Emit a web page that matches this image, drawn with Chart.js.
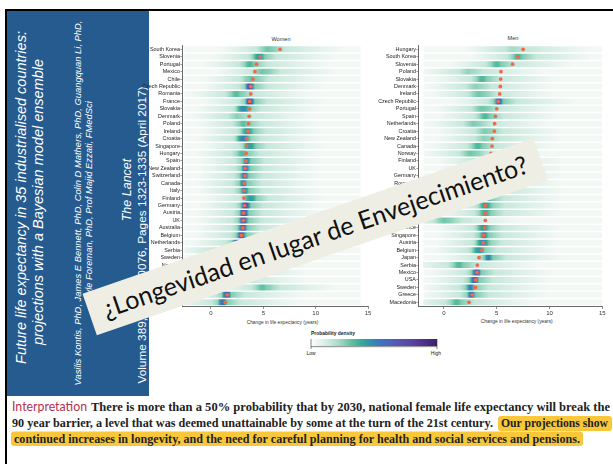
<!DOCTYPE html>
<html lang="es">
<head>
<meta charset="utf-8">
<title>¿Longevidad en lugar de Envejecimiento?</title>
<script src="https://cdn.jsdelivr.net/npm/chart.js@4.4.1/dist/chart.umd.min.js"></script>
<style>
  html, body { margin: 0; padding: 0; background: #fff; }
  body { width: 613px; height: 464px; position: relative; overflow: hidden; }
  svg { position: absolute; left: 0; top: 0; }
  #bg { z-index: 0; }
  .chartBox { position: absolute; z-index: 1; }
  #fg { z-index: 2; pointer-events: none; }
</style>
</head>
<body>

<svg id="bg" width="613" height="464" xmlns="http://www.w3.org/2000/svg">
  <defs><linearGradient id="densityRamp" x1="0" y1="0" x2="1" y2="0"></linearGradient></defs>
  <!-- slide frame -->
  <rect x="5" y="9" width="608" height="2" fill="#000"/>
  <rect x="5" y="9" width="2" height="455" fill="#000"/>
  <!-- article panel -->
  <rect x="7" y="11" width="142" height="385" fill="#265b90"/>
  <g fill="#fff" font-family="'Liberation Sans', Arial, sans-serif" text-anchor="middle">
    <text x="26" y="197.5" transform="rotate(-90 26 197.5)" font-size="14.5" font-style="italic">Future life expectancy in 35 industrialised countries:</text>
    <text x="43" y="202" transform="rotate(-90 43 202)" font-size="14.5" font-style="italic">projections with a Bayesian model ensemble</text>
    <text x="81" y="203" transform="rotate(-90 81 203)" font-size="9.4" font-style="italic">Vasilis Kontis, PhD, James E Bennett, PhD, Colin D Mathers, PhD, Guangquan Li, PhD,</text>
    <text x="92" y="201" transform="rotate(-90 92 201)" font-size="9.4" font-style="italic">Kyle Foreman, PhD, Prof Majid Ezzati, FMedSci</text>
    <text x="131" y="190" transform="rotate(-90 131 190)" font-size="12.5" font-style="italic">The Lancet</text>
    <text x="146" y="235" transform="rotate(-90 146 235)" font-size="11.8">Volume 389, Issue 10076, Pages 1323-1335 (April 2017)</text>
  </g>

  <!-- panel titles and axis titles -->
  <g font-family="'Liberation Sans', Arial, sans-serif" fill="#333" text-anchor="middle" font-size="5.6">
    <text x="281" y="41">Women</text>
    <text x="513" y="40">Men</text>
    <text x="282.5" y="324" textLength="71.6" lengthAdjust="spacingAndGlyphs">Change in life expectancy (years)</text>
    <text x="516.7" y="323" textLength="72" lengthAdjust="spacingAndGlyphs">Change in life expectancy (years)</text>
  </g>

  <!-- density legend -->
  <g font-family="'Liberation Sans', Arial, sans-serif" fill="#222">
    <text x="311" y="335" font-size="5.3" font-weight="bold" textLength="44" lengthAdjust="spacingAndGlyphs">Probability density</text>
    <rect x="311" y="339" width="126" height="7.5" fill="url(#densityRamp)"/>
    <rect x="311" y="346" width="126" height="1.2" fill="#9a9a9a"/>
    <line x1="311" y1="339" x2="311" y2="349" stroke="#333" stroke-width="0.6"/>
    <line x1="437" y1="339" x2="437" y2="349" stroke="#333" stroke-width="0.6"/>
    <text x="311" y="354.5" font-size="5" text-anchor="middle">Low</text>
    <text x="436" y="354.5" font-size="5" text-anchor="middle">High</text>
  </g>

  <!-- interpretation paragraph -->
  <rect x="498" y="416" width="114" height="15" rx="3" fill="#f9c83a"/>
  <rect x="11" y="431.5" width="572" height="14.5" rx="3" fill="#f9c83a"/>
  <g font-size="13.5" fill="#222">
    <text x="12" y="411" font-family="Lato, 'Open Sans', sans-serif" fill="#b3304f" textLength="75" lengthAdjust="spacingAndGlyphs">Interpretation</text>
    <g font-family="'Liberation Serif', 'DejaVu Serif', serif" font-weight="bold">
      <text x="91" y="411" textLength="519" lengthAdjust="spacingAndGlyphs">There is more than a 50% probability that by 2030, national female life expectancy will break the</text>
      <text x="12" y="427" textLength="481" lengthAdjust="spacingAndGlyphs">90 year barrier, a level that was deemed unattainable by some at the turn of the 21st century.</text>
      <text x="501" y="427" textLength="107" lengthAdjust="spacingAndGlyphs">Our projections show</text>
      <text x="14" y="442.7" textLength="566" lengthAdjust="spacingAndGlyphs">continued increases in longevity, and the need for careful planning for health and social services and pensions.</text>
    </g>
  </g>
</svg>

<div class="chartBox" style="left:140px;top:30px;width:234px;height:296px"><canvas id="womenChart" width="234" height="296"></canvas></div>
<div class="chartBox" style="left:375px;top:30px;width:234px;height:296px"><canvas id="menChart" width="234" height="296"></canvas></div>

<svg id="fg" width="613" height="464" xmlns="http://www.w3.org/2000/svg">
  <g transform="translate(315.2 236.8) rotate(-19)">
    <rect x="-238.5" y="-22" width="477" height="44" fill="#efeee5"/>
    <text x="0" y="9" text-anchor="middle" font-family="Lato, 'Open Sans', sans-serif" font-size="25.5" fill="#111" textLength="448" lengthAdjust="spacingAndGlyphs">¿Longevidad en lugar de Envejecimiento?</text>
  </g>
</svg>

<script>
// Projected change in life expectancy 2010-2030, per country (years)
const womenCountries = ["South Korea","Slovenia","Portugal","Mexico","Chile","Czech Republic","Romania","France","Slovakia","Denmark","Poland","Ireland","Croatia","Singapore","Hungary","Spain","New Zealand","Switzerland","Canada","Italy","Finland","Germany","Austria","UK","Australia","Belgium","Netherlands","Serbia","Sweden","Norway","Japan","Greece","USA","Bulgaria","Macedonia"];
const womenMedian = [6.6,4.7,4.35,4.2,4.0,3.8,3.8,3.7,3.7,3.65,3.6,3.55,3.4,3.4,3.35,3.35,3.27,3.25,3.18,3.18,3.15,3.22,3.12,3.09,3.05,2.9,2.55,2.35,2.25,2.1,2.0,1.85,1.7,1.55,1.37];
const womenPeak = [5.4,4.6,3.7,4.9,3.8,3.7,2.4,3.7,3.1,2.5,3.1,3.5,3.1,3.7,3.0,3.4,3.3,3.2,3.1,3.2,3.8,3.3,3.15,3.1,3.05,2.9,2.5,1.2,2.2,2.0,1.9,1.8,4.9,1.5,1.1];
const womenPeakLevel = [0.3,0.45,0.36,0.3,0.3,0.78,0.34,0.8,0.5,0.26,0.33,0.45,0.52,0.45,0.35,0.55,0.62,0.6,0.55,0.55,0.45,0.82,0.75,0.72,0.72,0.72,0.7,0.35,0.55,0.55,0.5,0.5,0.33,0.72,0.62];

const menCountries = ["Hungary","South Korea","Slovenia","Poland","Slovakia","Denmark","Ireland","Czech Republic","Portugal","Spain","Netherlands","Croatia","New Zealand","Canada","Norway","Finland","UK","Germany","Romania","Switzerland","Italy","Australia","Chile","Bulgaria","France","Singapore","Austria","Belgium","Japan","Serbia","Mexico","USA","Sweden","Greece","Macedonia"];
const menMedian = [7.5,7.0,6.5,5.4,5.37,5.34,5.28,5.15,5.0,4.87,4.8,4.77,4.58,4.55,4.45,4.35,4.25,4.15,4.05,4.0,3.98,3.92,3.92,3.92,3.85,3.76,3.73,3.6,3.32,3.16,3.13,3.0,2.97,2.68,2.37];
const menPeak = [6.5,7.0,5.0,2.3,3.6,3.0,3.3,5.2,3.6,3.9,2.8,3.9,3.8,3.2,2.5,4.0,4.1,4.0,3.9,4.1,4.0,3.95,3.9,0.0,3.75,3.8,3.7,3.3,4.2,1.4,3.1,2.9,2.5,2.6,1.2];
const menPeakLevel = [0.22,0.36,0.35,0.25,0.36,0.26,0.3,0.68,0.3,0.36,0.28,0.28,0.26,0.36,0.3,0.35,0.35,0.35,0.35,0.42,0.42,0.45,0.4,0.3,0.45,0.55,0.5,0.45,0.55,0.35,0.72,0.68,0.55,0.6,0.35];

const xTickValues = [0, 5, 10, 15];
const womenBand = [-2.55, 14.3];
const menBand = [-1.95, 15];

// Probability density colour ramp (low -> high)
const densityStopPos = [0, 0.04, 0.12, 0.22, 0.32, 0.40, 0.48, 0.56, 0.68, 0.82, 1];
const densityStopColor = ['#ffffff','#f1f7f4','#d5ede4','#a6dbc8','#63c0a3','#35ab95','#2f8fb1','#3e72c2','#5659b5','#5a3f9f','#3e1d6f'];

const hexToRgb = h => [1, 3, 5].map(i => parseInt(h.slice(i, i + 2), 16));
const rampRgb = densityStopColor.map(hexToRgb);

function densityColor(d) {
  d = Math.max(0, Math.min(1, d));
  let k = 0;
  while (k < densityStopPos.length - 2 && d > densityStopPos[k + 1]) k++;
  const t = (d - densityStopPos[k]) / (densityStopPos[k + 1] - densityStopPos[k]);
  const a = rampRgb[k], b = rampRgb[k + 1];
  const c = a.map((v, j) => Math.round(v + (b[j] - v) * t));
  return `rgb(${c[0]},${c[1]},${c[2]})`;
}

function densityAt(v, peak, level) {
  const d = v - peak;
  const coreSd = level >= 0.55 ? 0.3 : 0.55;
  const core = level * Math.exp(-0.5 * (d / coreSd) ** 2);
  const shoulder = Math.min(level, 0.3) * 0.95 * Math.exp(-0.5 * (d / (d < 0 ? 0.9 : 1.5)) ** 2);
  const tail = 0.16 * Math.exp(-0.5 * (d / (d < 0 ? 2.6 : 4.2)) ** 2);
  return Math.max(core, shoulder, tail, 0.035);
}

// legend ramp
const ramp = document.getElementById('densityRamp');
densityStopPos.forEach((p, i) => {
  const s = document.createElementNS('http://www.w3.org/2000/svg', 'stop');
  s.setAttribute('offset', p);
  s.setAttribute('stop-color', densityStopColor[i]);
  ramp.appendChild(s);
});

const tickFont = '"Liberation Sans Narrow", "Liberation Sans", Arial, sans-serif';

function densityPanel(canvasId, countries, median, peak, level, band, xMin, yWidth, rightPad) {
  const bandFill = (ctx) => {
    const chart = ctx.chart;
    if (ctx.type !== 'data' || !chart.chartArea) return '#eef6f3';
    const xs = chart.scales.x;
    const i = ctx.dataIndex;
    const x0 = xs.getPixelForValue(band[0]);
    const x1 = xs.getPixelForValue(band[1]);
    const g = chart.ctx.createLinearGradient(x0, 0, x1, 0);
    const N = 90;
    for (let k = 0; k <= N; k++) {
      const v = band[0] + (band[1] - band[0]) * k / N;
      g.addColorStop(k / N, densityColor(densityAt(v, peak[i], level[i])));
    }
    return g;
  };

  return new Chart(document.getElementById(canvasId), {
    type: 'bar',
    data: {
      labels: countries,
      datasets: [
        {
          type: 'scatter',
          data: countries.map((c, i) => ({ x: median[i], y: c })),
          pointRadius: 1.9,
          pointHoverRadius: 1.9,
          pointBackgroundColor: '#f2694a',
          pointBorderWidth: 0,
          order: 0
        },
        {
          type: 'bar',
          data: countries.map(() => [band[0], band[1]]),
          backgroundColor: bandFill,
          borderWidth: 0,
          barPercentage: 0.8,
          categoryPercentage: 1,
          order: 1
        }
      ]
    },
    options: {
      responsive: false,
      animation: false,
      devicePixelRatio: 1,
      indexAxis: 'y',
      events: [],
      layout: { padding: { left: 0, top: 15.6, right: rightPad, bottom: 0 } },
      plugins: { legend: { display: false }, tooltip: { enabled: false }, title: { display: false } },
      scales: {
        x: {
          type: 'linear', position: 'bottom', min: xMin, max: 15,
          afterBuildTicks: s => { s.ticks = xTickValues.map(v => ({ value: v })); },
          afterFit: s => { s.height = 20; },
          grid: { drawOnChartArea: false, drawTicks: true, tickLength: 3, color: '#444', lineWidth: 0.6 },
          border: { display: true, color: '#444', width: 0.8 },
          ticks: { font: { size: 6, family: tickFont }, color: '#333', padding: 1, maxRotation: 0 }
        },
        y: {
          type: 'category', position: 'left', offset: true,
          afterFit: s => { s.width = yWidth; },
          grid: { offset: false, drawOnChartArea: false, drawTicks: true, tickLength: 1.6, color: '#444', lineWidth: 0.5 },
          border: { display: true, color: '#444', width: 0.8 },
          ticks: { autoSkip: false, font: { size: 5.4, family: tickFont }, color: '#222', padding: 0.5 }
        }
      }
    }
  });
}

densityPanel('womenChart', womenCountries, womenMedian, womenPeak, womenPeakLevel, womenBand, -2.77, 42, 6);
densityPanel('menChart', menCountries, menMedian, menPeak, menPeakLevel, menBand, -2.46, 43, 6.7);
</script>
</body>
</html>
